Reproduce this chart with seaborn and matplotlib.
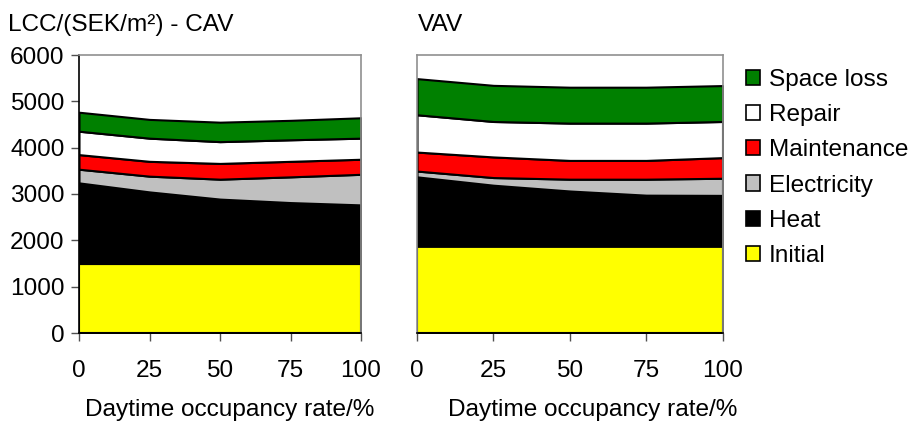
import numpy as np
import pandas as pd
import matplotlib
matplotlib.use("Agg")
import matplotlib.pyplot as plt
import seaborn as sns
from matplotlib.patches import Patch

# Daytime occupancy rate (%)
occupancy = [0, 25, 50, 75, 100]

# cost components, SEK/m2, bottom to top
categories = ["Initial", "Heat", "Electricity", "Maintenance", "Repair", "Space loss"]
colors = ["#FFFF00", "#000000", "#C0C0C0", "#FF0000", "#FFFFFF", "#008000"]

cav_initial = [1500, 1500, 1500, 1500, 1500]
cav_heat = [1740, 1545, 1390, 1315, 1265]
cav_electricity = [295, 340, 430, 555, 660]
cav_maintenance = [315, 320, 340, 335, 325]
cav_repair = [505, 500, 470, 465, 455]
cav_space_loss = [410, 405, 420, 420, 440]

vav_initial = [1870, 1870, 1870, 1870, 1870]
vav_heat = [1500, 1320, 1195, 1105, 1100]
vav_electricity = [125, 165, 255, 345, 370]
vav_maintenance = [410, 445, 405, 405, 445]
vav_repair = [805, 765, 805, 805, 780]
vav_space_loss = [780, 780, 775, 775, 775]

cav = pd.DataFrame(dict(zip(categories, [cav_initial, cav_heat, cav_electricity,
                                          cav_maintenance, cav_repair, cav_space_loss])),
                   index=occupancy)
vav = pd.DataFrame(dict(zip(categories, [vav_initial, vav_heat, vav_electricity,
                                          vav_maintenance, vav_repair, vav_space_loss])),
                   index=occupancy)

sns.set_style("ticks")
plt.rcParams["font.family"] = ["Liberation Sans", "DejaVu Sans"]
plt.rcParams["text.color"] = "black"
plt.rcParams["xtick.labelcolor"] = "black"
plt.rcParams["ytick.labelcolor"] = "black"

FS = 17.6
W, H = 914, 422
fig = plt.figure(figsize=(W / 100, H / 100), dpi=100)

# axes boxes in pixels: left, top, right, bottom
boxes = [(79, 55, 361, 333), (417, 55, 722.5, 333)]
frames = [cav, vav]

for i, (df, (l, t, r, b)) in enumerate(zip(frames, boxes)):
    ax = fig.add_axes([l / W, 1 - b / H, (r - l) / W, (b - t) / H])
    ax.stackplot(df.index, *[df[c].values for c in categories], colors=colors,
                 edgecolor="black", linewidth=1.5)
    ax.set_xlim(0, 100)
    ax.set_ylim(0, 6000)
    ax.set_xticks(occupancy)
    ax.set_yticks(range(0, 6001, 1000))
    ax.tick_params(axis="both", labelsize=FS, color="#505050", length=5.5, width=1,
                   direction="out")
    ax.tick_params(axis="x", pad=14)
    ax.tick_params(axis="y", pad=5)
    for side in ["top", "right"]:
        ax.spines[side].set_color("#909090")
        ax.spines[side].set_linewidth(1.2)
    ax.spines["bottom"].set_color("black")
    ax.spines["bottom"].set_linewidth(1.2)
    if i == 0:
        ax.spines["left"].set_color("black")
        ax.spines["left"].set_linewidth(1.2)
    else:
        ax.spines["left"].set_color("#909090")
        ax.spines["left"].set_linewidth(1.2)
        ax.tick_params(axis="y", left=False, labelleft=False)
    ax.set_xlabel("")
    ax.set_ylabel("")

fig.text(8 / W, 1 - 31 / H, "LCC/(SEK/m²) - CAV", fontsize=FS, va="baseline", ha="left")
fig.text(418 / W, 1 - 31 / H, "VAV", fontsize=FS, va="baseline", ha="left")
fig.text(230 / W, 1 - 416 / H, "Daytime occupancy rate/%", fontsize=FS,
         va="baseline", ha="center")
fig.text(593 / W, 1 - 416 / H, "Daytime occupancy rate/%", fontsize=FS,
         va="baseline", ha="center")

handles = [Patch(facecolor=c, edgecolor="black", linewidth=1.2, label=n)
           for n, c in zip(categories, colors)][::-1]
fig.legend(handles=handles, loc="upper left", bbox_to_anchor=(746 / W, 1 - 69 / H),
           frameon=False, fontsize=FS, handlelength=0.58, handleheight=0.58,
           handletextpad=0.35, labelspacing=0.54, borderaxespad=0, borderpad=0)

fig.savefig("out.png", dpi=100)
